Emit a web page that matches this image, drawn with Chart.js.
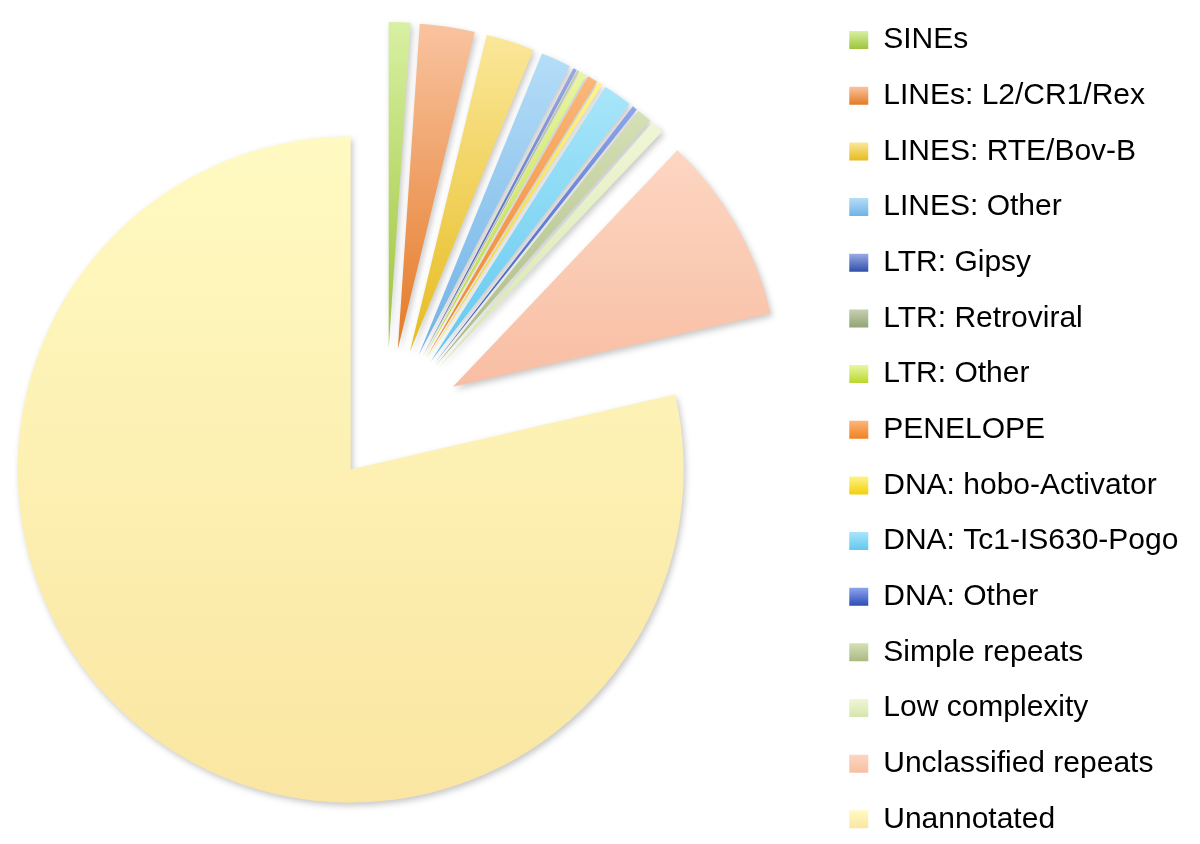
<!DOCTYPE html>
<html>
<head>
<meta charset="utf-8">
<title>Repeat content</title>
<script src="https://cdn.jsdelivr.net/npm/chart.js@4.4.1/dist/chart.umd.min.js"></script>
<style>
    html, body { margin: 0; padding: 0; background: #fff; overflow: hidden; }
    body { width: 1200px; height: 844px; position: relative; }
    #repeatChart { position: absolute; left: -60px; top: -10px; }
</style>
</head>
<body>
<canvas id="repeatChart" width="1260" height="870"></canvas>
<script>
// Repeat classes, clockwise from 12 o'clock
const categories = [
    'SINEs',
    'LINEs: L2/CR1/Rex',
    'LINES: RTE/Bov-B',
    'LINES: Other',
    'LTR: Gipsy',
    'LTR: Retroviral',
    'LTR: Other',
    'PENELOPE',
    'DNA: hobo-Activator',
    'DNA: Tc1-IS630-Pogo',
    'DNA: Other',
    'Simple repeats',
    'Low complexity',
    'Unclassified repeats',
    'Unannotated'
];

// Share of the assembly (%)
const genomeShare = [1.07, 2.72, 2.39, 1.49, 0.19, 0.10, 0.35, 0.50, 0.21, 1.44, 0.25, 0.72, 0.65, 9.29, 78.61];

// Styles: gradient top / bottom colour of each slice
const lightColors = ['#D8F0A2', '#F9C3A0', '#FBE79A', '#B5DDF7', '#9AAAE6', '#C6D0B0', '#E8F7A0', '#FBB77A',
                     '#FFF38A', '#A8E6FA', '#8EA6EC', '#D5E0B6', '#EFF6D6', '#FDD6C2', '#FFFAC2'];
const darkColors = ['#9CC43A', '#E47A26', '#E6BC1E', '#70B2E6', '#2F4FA8', '#93A475', '#B8D82E', '#F08122',
                    '#F2D00A', '#62C8EF', '#2C4DB8', '#A9BA82', '#D6E6AC', '#F8BEA3', '#FAE6A2'];
// how far each slice is pulled out of the pie, and its radius (px)
const explodeDist = [77, 77, 77, 77, 77, 77, 77, 77, 77, 77, 77, 77, 77, 77, 57];
const sliceRadius = [326, 326, 326, 326, 326, 326, 326, 326, 326, 326, 326, 326, 326, 326, 333];

const fontFamily = '"Liberation Sans", Arial, Helvetica, sans-serif';

// where a slice ends up once exploded (same angles the arc element gets)
function sliceBox(chart, i) {
    const area = chart.chartArea;
    const cx = (area.left + area.right) / 2;
    const cy = (area.top + area.bottom) / 2;
    const total = genomeShare.reduce((a, b) => a + b, 0);
    let before = 0;
    for (let k = 0; k < i; k++) before += genomeShare[k];
    const start = -Math.PI / 2 + before / total * 2 * Math.PI;
    const end = start + genomeShare[i] / total * 2 * Math.PI;
    const mid = (start + end) / 2;
    const x = cx + Math.cos(mid) * explodeDist[i];
    const y = cy + Math.sin(mid) * explodeDist[i];
    const r = sliceRadius[i];
    const ys = [y, y + r * Math.sin(start), y + r * Math.sin(end)];
    [-Math.PI / 2, Math.PI / 2, 3 * Math.PI / 2].forEach(a => {
        if (a >= start && a <= end) ys.push(y + r * Math.sin(a));
    });
    return { top: Math.min(...ys), bottom: Math.max(...ys) };
}

function sliceFill(c) {
    const chart = c.chart;
    const i = c.dataIndex;
    if (!chart.chartArea || i === undefined) return darkColors[i] || '#ccc';
    const box = sliceBox(chart, i);
    const g = chart.ctx.createLinearGradient(0, box.top, 0, box.bottom);
    g.addColorStop(0, lightColors[i]);
    g.addColorStop(1, darkColors[i]);
    return g;
}

// Pull the slices out along their bisectors and give them a soft shadow
const explodePlugin = {
    id: 'explode',
    beforeDraw(chart) {
        const legend = chart.legend;
        if (!legend || !legend.legendHitBoxes) return;
        legend.legendItems.forEach((item, i) => {
            const hb = legend.legendHitBoxes[i];
            if (!hb) return;
            const g = chart.ctx.createLinearGradient(0, hb.top + 6, 0, hb.top + 24);
            g.addColorStop(0, lightColors[i]);
            g.addColorStop(1, darkColors[i]);
            item.fillStyle = g;
        });
    },
    beforeDatasetsDraw(chart) {
        const area = chart.chartArea;
        const cx = (area.left + area.right) / 2;
        const cy = (area.top + area.bottom) / 2;
        chart.getDatasetMeta(0).data.forEach((arc, i) => {
            const mid = (arc.startAngle + arc.endAngle) / 2;
            arc.x = cx + Math.cos(mid) * explodeDist[i];
            arc.y = cy + Math.sin(mid) * explodeDist[i];
            arc.outerRadius = sliceRadius[i];
        });
        const ctx = chart.ctx;
        ctx.save();
        ctx.shadowColor = 'rgba(0, 0, 0, 0.22)';
        ctx.shadowBlur = 6;
        ctx.shadowOffsetX = 2;
        ctx.shadowOffsetY = 3;
    },
    afterDatasetsDraw(chart) {
        chart.ctx.restore();
    }
};

const ctx = document.getElementById('repeatChart').getContext('2d');
const repeatChart = new Chart(ctx, {
    type: 'pie',
    data: {
        labels: categories,
        datasets: [{
            data: genomeShare,
            backgroundColor: sliceFill,
            borderWidth: 0,
            offset: 0,
            hoverOffset: 0,
            clip: false
        }]
    },
    options: {
        responsive: false,
        animation: false,
        events: [],
        radius: 333,
        layout: { padding: { left: 8.66, right: 11.6, top: 0, bottom: 0 } },
        plugins: {
            tooltip: { enabled: false },
            legend: {
                position: 'right',
                align: 'end',
                labels: {
                    boxWidth: 19,
                    boxHeight: 18,
                    padding: 25.66,
                    color: '#000',
                    font: { family: fontFamily, size: 30 },
                    generateLabels(chart) {
                        return categories.map((text, i) => ({
                            text: text,
                            fillStyle: darkColors[i],
                            strokeStyle: 'rgba(0,0,0,0)',
                            lineWidth: 0,
                            hidden: false,
                            index: i
                        }));
                    }
                }
            }
        }
    },
    plugins: [explodePlugin]
});
</script>
</body>
</html>
